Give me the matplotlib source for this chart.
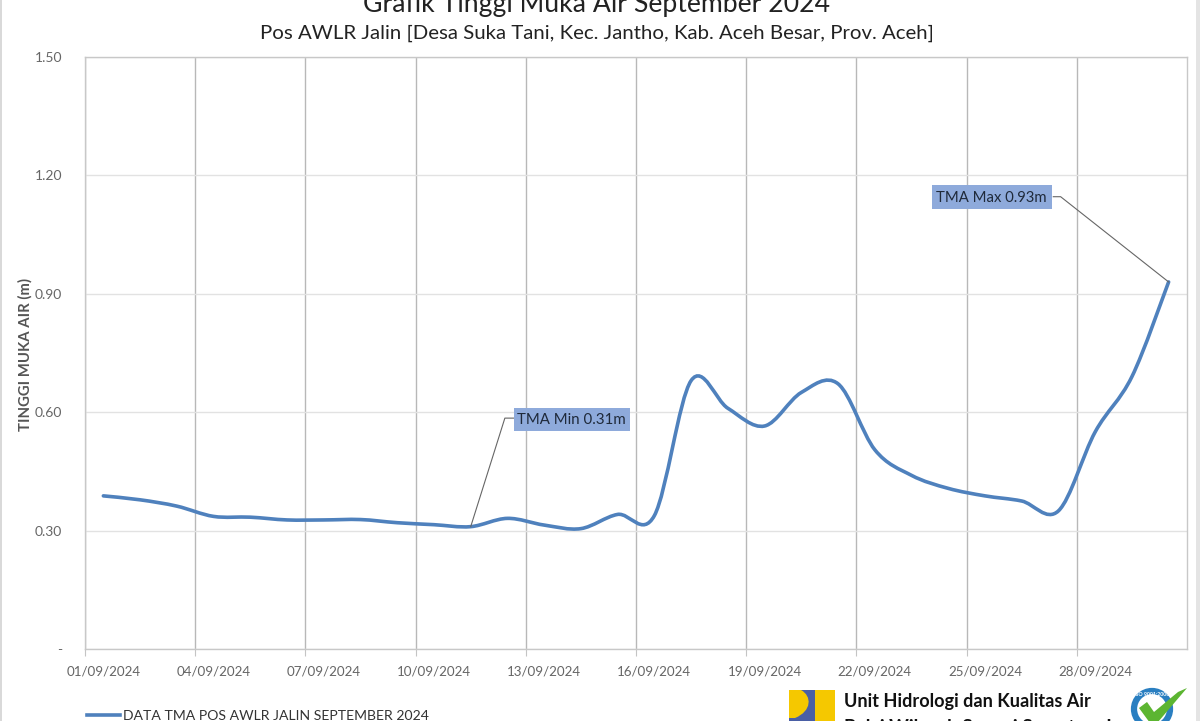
import matplotlib
matplotlib.use("Agg")
import matplotlib.pyplot as plt
from matplotlib.path import Path
from matplotlib.lines import Line2D
from matplotlib.patches import PathPatch, Rectangle, Circle, Polygon
from matplotlib.transforms import Affine2D

plt.rcParams['font.family'] = ['Lato', 'DejaVu Sans']

date_labels = ["01/09/2024", "04/09/2024", "07/09/2024", "10/09/2024", "13/09/2024",
               "16/09/2024", "19/09/2024", "22/09/2024", "25/09/2024", "28/09/2024"]
y_ticks = [0.0, 0.3, 0.6, 0.9, 1.2, 1.5]
y_labels = ["-", "0.30", "0.60", "0.90", "1.20", "1.50"]
tma_values = [0.388, 0.378, 0.362, 0.336, 0.334, 0.327, 0.327, 0.328, 0.32, 0.315,
              0.31, 0.331, 0.314, 0.305, 0.341, 0.338, 0.68, 0.61, 0.565, 0.65,
              0.672, 0.505, 0.44, 0.407, 0.388, 0.375, 0.35, 0.55, 0.69, 0.93]
series_name = "DATA TMA POS AWLR JALIN SEPTEMBER 2024"
title_text = "Grafik Tinggi Muka Air September 2024"
subtitle_text = "Pos AWLR Jalin [Desa Suka Tani, Kec. Jantho, Kab. Aceh Besar, Prov. Aceh]"

W, H = 1200, 721
fig = plt.figure(figsize=(W / 100, H / 100), dpi=100, facecolor="white")
ax = fig.add_axes([85 / W, 1 - 649 / H, (1187 - 85) / W, (649 - 57) / H])
px = Affine2D().scale(1, -1).translate(0, H)  # pixel coordinates, y downward

ax.set_xlim(0, 30)
ax.set_ylim(0, 1.5)
ax.set_xticks([i * 3 for i in range(len(date_labels))])
ax.set_xticklabels([])
ax.set_xticks([i * 3 + 0.5 for i in range(len(date_labels))], minor=True)
ax.set_xticklabels(date_labels, minor=True)
ax.tick_params(axis='x', which='major', length=5, color="#c4c4c4")
ax.tick_params(axis='x', which='minor', length=0, labelsize=9.6, labelcolor="#666666", pad=12)
ax.set_yticks(y_ticks)
ax.set_yticklabels(y_labels)
ax.tick_params(axis='y', length=0, labelsize=10, labelcolor="#666666", pad=16.5)
ax.grid(axis='y', which='major', color="#e2e2e2", lw=1)
ax.grid(axis='x', which='major', color="#b8b8b8", lw=1)
ax.set_axisbelow(True)
for s in ax.spines.values():
    s.set_color("#c8c8c8")
    s.set_linewidth(1)

# smoothed line (Excel-style Catmull-Rom Bezier through the daily values)
xs = [i + 0.5 for i in range(len(tma_values))]
pts = list(zip(xs, tma_values))
verts, codes = [pts[0]], [Path.MOVETO]
for i in range(len(pts) - 1):
    p0 = pts[max(i - 1, 0)]
    p1, p2 = pts[i], pts[i + 1]
    p3 = pts[min(i + 2, len(pts) - 1)]
    c1 = (p1[0] + (p2[0] - p0[0]) / 6, p1[1] + (p2[1] - p0[1]) / 6)
    c2 = (p2[0] - (p3[0] - p1[0]) / 6, p2[1] - (p3[1] - p1[1]) / 6)
    verts += [c1, c2, p2]
    codes += [Path.CURVE4] * 3
ax.add_patch(PathPatch(Path(verts, codes), fc="none", ec="#4f81bd", lw=2.6, capstyle="round", zorder=3))

# annotations
box_color = "#8eaadb"
imin = tma_values.index(min(tma_values[:12]))
imax = tma_values.index(max(tma_values))
ax.plot([xs[imin], 11.43, 11.68], [tma_values[imin], 0.585, 0.585], color="#666666", lw=0.8, zorder=4)
ax.plot([xs[imax], 26.56, 26.36], [tma_values[imax], 1.146, 1.146], color="#666666", lw=0.8, zorder=4)
fig.add_artist(Rectangle((514, 408), 116, 23, transform=px, fc=box_color, ec="none", zorder=5))
fig.add_artist(Rectangle((932, 185), 120, 24, transform=px, fc=box_color, ec="none", zorder=5))
fig.text(571.5 / W, 1 - 420.5 / H, "TMA Min 0.31m", fontsize=10.8, color="#1f2a3a", ha="center", va="center", zorder=6)
fig.text(991.5 / W, 1 - 198 / H, "TMA Max 0.93m", fontsize=10.7, color="#1f2a3a", ha="center", va="center", zorder=6)

# titles (the main title is cut by the top of the image)
fig.text(597 / W, 1 - 12 / H, title_text, fontsize=19.2, color="#222222", ha="center", va="baseline")
fig.text(596.5 / W, 1 - 39 / H, subtitle_text, fontsize=14.7, color="#222222", ha="center", va="baseline")
fig.text(25.5 / W, 1 - 354.5 / H, "TINGGI MUKA AIR (m)", fontsize=10.7, color="#555555", rotation=90,
         ha="center", va="center", fontweight="bold")

# legend
fig.add_artist(Line2D([87, 120], [714.5, 714.5], transform=px, color="#4f81bd", lw=2.6))
fig.text(123 / W, 1 - 714.5 / H, series_name, fontsize=10.05, color="#333333", ha="left", va="center_baseline")

# footer logo and text
fig.add_artist(Rectangle((789, 690), 46, 31, transform=px, fc="#f5c800", ec="none"))
fig.add_artist(Rectangle((789, 690), 26, 31, transform=px, fc="#4a5fa5", ec="none"))
fig.add_artist(PathPatch(Path([(789, 690), (801, 690), (812, 696), (812, 711), (795, 718), (789, 718), (789, 690)],
                              [Path.MOVETO, Path.LINETO, Path.CURVE4, Path.CURVE4, Path.CURVE4, Path.LINETO, Path.CLOSEPOLY]),
                         transform=px, fc="#f5c800", ec="none"))
fig.text(844 / W, 1 - 701 / H, "Unit Hidrologi dan Kualitas Air", fontsize=13.1, fontweight="bold", color="#111111", ha="left", va="center")
fig.text(844 / W, 1 - 727 / H, "Balai Wilayah Sungai Sumatera I", fontsize=13.5, fontweight="bold", color="#111111", ha="left", va="center")

# ISO badge
fig.add_artist(Circle((1152, 709), 18, transform=px, fc="white", ec="#2a7fc1", lw=4.5))
fig.text(1152 / W, 1 - 694 / H, "ISO 9001:2008", fontsize=3.8, color="white", ha="center", va="center", fontweight="bold")
fig.add_artist(Polygon([(1139, 708), (1147, 702), (1154, 712), (1178, 692), (1187, 688), (1158, 722), (1150, 723)],
                       closed=True, transform=px, fc="#5cb531", ec="none"))

# image frame
fig.add_artist(Rectangle((0, 0), 2, H, transform=px, fc="#d9d9d9", ec="none"))
fig.add_artist(Rectangle((1196, 0), 4, H, transform=px, fc="#e4e4e4", ec="none"))

fig.savefig("out.png", dpi=100, facecolor="white")
